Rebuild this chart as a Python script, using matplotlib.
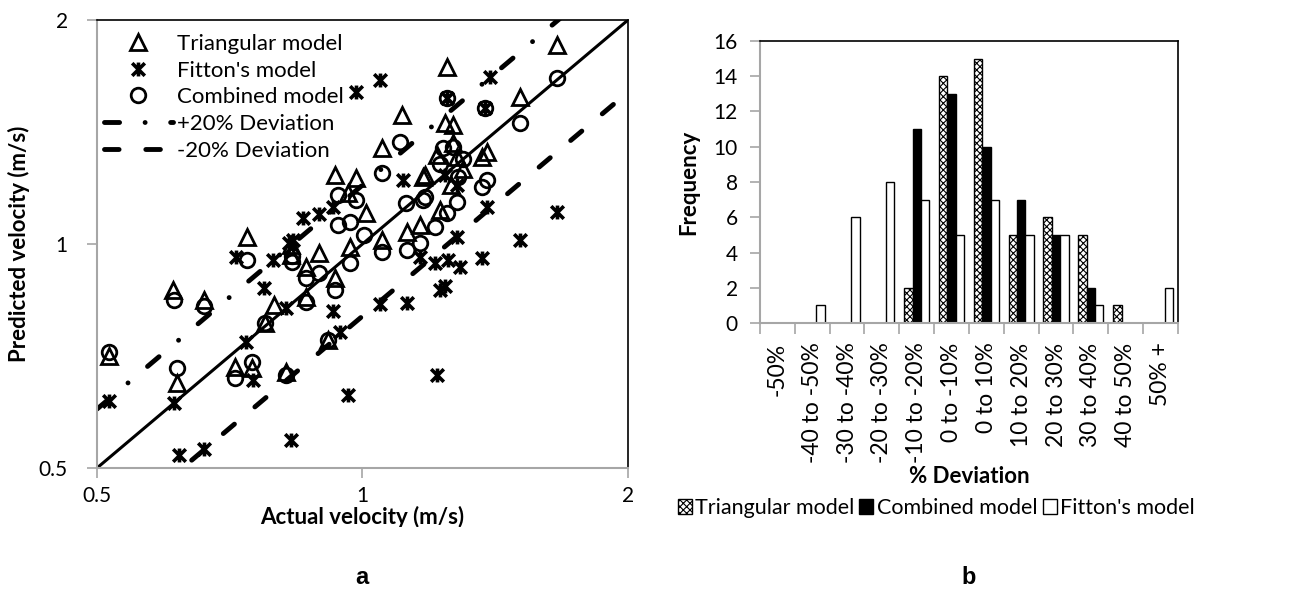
import numpy as np
import matplotlib.pyplot as plt
from matplotlib.path import Path
from matplotlib.patches import Patch
from matplotlib.lines import Line2D
from matplotlib.transforms import Bbox, TransformedBbox

plt.rcParams['font.family'] = ['Lato', 'DejaVu Sans']
plt.rcParams['hatch.linewidth'] = 0.8

# (a) actual vs predicted velocity, m/s
tri_actual = [0.516, 0.610, 0.616, 0.661, 0.717, 0.739, 0.749, 0.775, 0.793, 0.820, 0.829, 0.829,
              0.862, 0.862, 0.892, 0.915, 0.932, 0.932, 0.964, 0.969, 0.982, 1.008, 1.053, 1.053,
              1.110, 1.124, 1.163, 1.172, 1.178, 1.216, 1.225, 1.241, 1.248, 1.268, 1.268, 1.281,
              1.260, 1.300, 1.367, 1.385, 1.509, 1.662]
tri_pred = [0.707, 0.867, 0.650, 0.840, 0.683, 1.022, 0.681, 0.783, 0.828, 0.672, 0.996, 0.967,
            0.931, 0.849, 0.972, 0.742, 0.900, 1.238, 1.171, 0.991, 1.227, 1.101, 1.347, 1.013,
            1.492, 1.038, 1.061, 1.231, 1.238, 1.318, 1.111, 1.455, 1.731, 1.446, 1.368, 1.310,
            1.200, 1.260, 1.310, 1.330, 1.578, 1.853]

comb_actual = [0.516, 0.611, 0.616, 0.661, 0.717, 0.739, 0.749, 0.775, 0.820, 0.833, 0.833, 0.862,
               0.862, 0.892, 0.913, 0.932, 0.937, 0.937, 0.969, 0.969, 0.982, 1.003, 1.053, 1.053,
               1.104, 1.119, 1.124, 1.163, 1.172, 1.178, 1.209, 1.225, 1.235, 1.248, 1.248, 1.268,
               1.281, 1.284, 1.300, 1.367, 1.378, 1.385, 1.509, 1.662]
comb_pred = [0.716, 0.840, 0.681, 0.826, 0.660, 0.952, 0.694, 0.783, 0.666, 0.946, 0.964, 0.900,
             0.835, 0.914, 0.742, 0.867, 1.164, 1.061, 1.070, 0.943, 1.146, 1.028, 1.246, 0.975,
             1.372, 1.135, 0.982, 1.003, 1.146, 1.157, 1.054, 1.280, 1.347, 1.573, 1.101, 1.351,
             1.139, 1.231, 1.300, 1.193, 1.525, 1.219, 1.455, 1.673]

fit_actual = [0.516, 0.611, 0.619, 0.661, 0.718, 0.737, 0.751, 0.773, 0.791, 0.818, 0.825, 0.829,
              0.835, 0.857, 0.892, 0.925, 0.927, 0.944, 0.964, 0.982, 1.048, 1.048, 1.113, 1.124,
              1.163, 1.209, 1.216, 1.225, 1.241, 1.241, 1.248, 1.251, 1.281, 1.281, 1.291, 1.367,
              1.378, 1.385, 1.396, 1.509, 1.662]
fit_pred = [0.616, 0.612, 0.520, 0.530, 0.961, 0.738, 0.656, 0.873, 0.952, 0.820, 1.003, 0.545,
            1.013, 1.084, 1.098, 0.812, 1.122, 0.761, 0.626, 1.602, 1.663, 0.830, 1.219, 0.833,
            0.961, 0.943, 0.666, 0.867, 0.877, 1.238, 1.573, 0.952, 1.022, 1.200, 0.931, 0.957,
            1.525, 1.122, 1.678, 1.013, 1.104]

# (b) deviation histogram
dev_bins = ['-50%', '-40 to -50%', '-30 to -40%', '-20 to -30%', '-10 to -20%', '0 to -10%',
            '0 to 10%', '10 to 20%', '20 to 30%', '30 to 40%', '40 to 50%', '50% +']
tri_freq = [0, 0, 0, 0, 2, 14, 15, 5, 6, 5, 1, 0]
comb_freq = [0, 0, 0, 0, 11, 13, 10, 7, 5, 2, 0, 0]
fit_freq = [0, 1, 6, 8, 7, 5, 7, 5, 5, 1, 0, 2]

GREY = '#a6a6a6'
PLUS_LS = (0, (3.1, 5.25, 0.01, 5.25))   # long dash - dot
MINUS_LS = (0, (3.0, 5.5))               # long dash

# excel style "star" marker: X with a vertical bar
star = Path([(-1, -1), (1, 1), (-1, 1), (1, -1), (0, -1.1), (0, 1.1)],
            [Path.MOVETO, Path.LINETO] * 3)

fig = plt.figure(figsize=(12.98, 5.89), dpi=100)

# ---------- a ----------
ax = fig.add_axes([0.0747, 0.2054, 0.4091, 0.7606])
ax.set_xscale('log')
ax.set_yscale('log')
ax.set_xlim(0.5, 2)
ax.set_ylim(0.5, 2)

ax.plot(tri_actual, tri_pred, ls='none', marker='^', ms=11, mfc='none', mec='k', mew=2)
ax.plot(fit_actual, fit_pred, ls='none', marker=star, ms=10, mfc='none', mec='k', mew=2.6)
ax.plot(comb_actual, comb_pred, ls='none', marker='o', ms=10.5, mfc='none', mec='k', mew=2)

xl = np.array([0.5, 2.0])
ax.plot(xl, xl, color='k', lw=2.2)
ax.plot(xl, 1.2 * xl, color='k', lw=3.5, ls=PLUS_LS, dash_capstyle='round')
ax.plot(xl, 0.8 * xl, color='k', lw=3.5, ls=MINUS_LS, dash_capstyle='round')

ax.set_xticks([0.5, 1, 2])
ax.set_xticklabels(['0.5', '1', '2'])
ax.set_yticks([0.5, 1, 2])
ax.set_yticklabels(['0.5', '1', '2'])
ax.minorticks_off()
ax.tick_params(labelsize=15, color=GREY, length=7, width=1.2)
ax.tick_params(axis='x', pad=6)
ax.tick_params(axis='y', pad=14)
for s in ['left', 'bottom']:
    ax.spines[s].set_color(GREY)
    ax.spines[s].set_linewidth(1.5)
for s in ['top', 'right']:
    ax.spines[s].set_color('k')
    ax.spines[s].set_linewidth(1.2)
ax.set_ylabel('Predicted velocity (m/s)', fontsize=16, fontweight='bold', labelpad=6)

# x title sits at the bottom edge of the excel chart, so its descenders get cut
xt = fig.text(362 / 1298, 1 - 524 / 589, 'Actual velocity (m/s)', fontsize=16,
              fontweight='bold', ha='center', va='baseline')
xt.set_clip_box(TransformedBbox(Bbox([[0, 1 - 527 / 589], [0.5, 1]]), fig.transFigure))
xt.set_clip_on(True)

leg_handles = [
    Line2D([], [], ls='none', marker='^', ms=11, mfc='none', mec='k', mew=2),
    Line2D([], [], ls='none', marker=star, ms=10, mfc='none', mec='k', mew=2.6),
    Line2D([], [], ls='none', marker='o', ms=10.5, mfc='none', mec='k', mew=2),
    Line2D([], [], color='k', lw=3.5, ls=PLUS_LS, dash_capstyle='round'),
    Line2D([], [], color='k', lw=3.5, ls=MINUS_LS, dash_capstyle='round'),
]
ax.legend(leg_handles, ['Triangular model', "Fitton's model", 'Combined model',
                        '+20% Deviation', '-20% Deviation'],
          loc='upper left', bbox_to_anchor=(-0.004, 0.989), frameon=False, fontsize=16,
          handlelength=3.1, handletextpad=0.2, labelspacing=0.3, borderaxespad=0.2,
          borderpad=0.2)

# ---------- b ----------
bx = fig.add_axes([0.5855, 0.4516, 0.3220, 0.4788])
pos = np.arange(len(dev_bins))
w = 0.24
bx.bar(pos - w, tri_freq, w, color='white', edgecolor='k', hatch='xxxxx', lw=1)
bx.bar(pos, comb_freq, w, color='k', edgecolor='k', lw=1)
bx.bar(pos + w, fit_freq, w, color='white', edgecolor='k', lw=1)
bx.set_xlim(-0.5, len(dev_bins) - 0.5)
bx.set_ylim(0, 16)
bx.set_yticks(range(0, 17, 2))
bx.set_xticks(pos)
bx.set_xticklabels(dev_bins, rotation=90, fontsize=16.5)
bx.set_xticks(np.arange(-0.5, len(dev_bins)), minor=True)
bx.tick_params(axis='x', which='major', length=0, pad=14)
bx.tick_params(axis='x', which='minor', length=8, color=GREY, width=1.2)
bx.tick_params(axis='y', labelsize=15, length=7, color=GREY, width=1.2, pad=9)
for s in ['left', 'bottom']:
    bx.spines[s].set_color(GREY)
    bx.spines[s].set_linewidth(1.5)
for s in ['top', 'right']:
    bx.spines[s].set_color('k')
    bx.spines[s].set_linewidth(1.2)
bx.set_xlabel('% Deviation', fontsize=16, fontweight='bold', labelpad=2)
bx.set_ylabel('Frequency', fontsize=16, fontweight='bold', labelpad=10)

bar_handles = [Patch(facecolor='white', edgecolor='k', hatch='xxxxx'),
               Patch(facecolor='k', edgecolor='k'),
               Patch(facecolor='white', edgecolor='k')]
fig.legend(bar_handles, ['Triangular model', 'Combined model', "Fitton's model"],
           loc='center', bbox_to_anchor=(936 / 1298, 1 - 508 / 589), ncol=3, frameon=False,
           fontsize=15.5, handlelength=0.65, handleheight=0.65, handletextpad=0.15,
           columnspacing=0.25)

fig.text(362 / 1298, 1 - 577 / 589, 'a', fontsize=17, fontweight='bold', ha='center', va='center',
         family=['Liberation Sans', 'DejaVu Sans'])
fig.text(969 / 1298, 1 - 577 / 589, 'b', fontsize=17, fontweight='bold', ha='center', va='center',
         family=['Liberation Sans', 'DejaVu Sans'])

fig.savefig('out.png', dpi=100)
